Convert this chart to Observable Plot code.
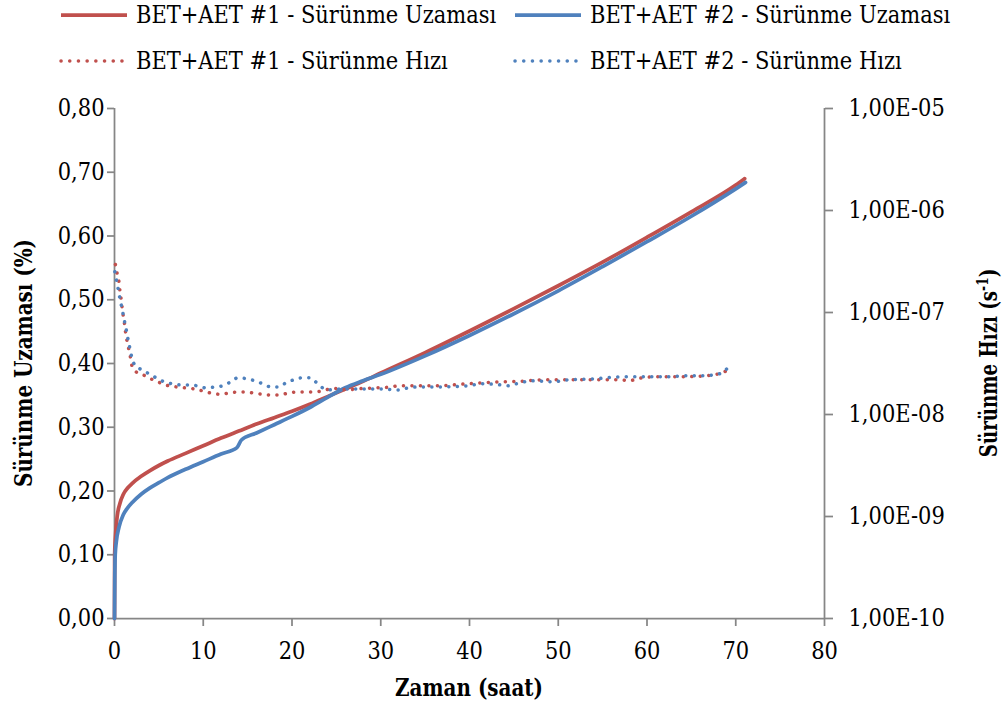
<!DOCTYPE html>
<html><head><meta charset="utf-8">
<script src="https://cdn.jsdelivr.net/npm/d3@7"></script>
<script src="https://cdn.jsdelivr.net/npm/@observablehq/plot@0.6"></script>
<style>
html,body{margin:0;padding:0;background:#fff;}
body{font-family:"DejaVu Serif","Liberation Serif","Times New Roman",serif;color:#000;}
#legend{position:relative;width:1004px;height:80px;font-size:24px;}
.item{position:absolute;height:30px;display:flex;align-items:center;white-space:nowrap;}
.item svg{display:block;margin-right:7px;}
.item span{display:inline-block;transform:scaleX(0.875);transform-origin:0 50%;}
#chart{position:relative;width:1004px;height:627px;}
#chart svg{position:absolute;left:0;top:0;}
</style></head><body>
<div id="legend"></div>
<div id="chart"></div>
<script>
// ---- data ----
const seriesNames = [
  "BET+AET #1 - Sürünme Uzaması",
  "BET+AET #2 - Sürünme Uzaması",
  "BET+AET #1 - Sürünme Hızı",
  "BET+AET #2 - Sürünme Hızı"
];
const colors = ["#C0504D", "#4F81BD"];

const xTicks = [0, 10, 20, 30, 40, 50, 60, 70, 80];
const yTicks = [0, 0.1, 0.2, 0.3, 0.4, 0.5, 0.6, 0.7, 0.8];
const yTickLabels = ["0,00","0,10","0,20","0,30","0,40","0,50","0,60","0,70","0,80"];
const rTicks = [1e-10, 1e-9, 1e-8, 1e-7, 1e-6, 1e-5];
const rTickLabels = ["1,00E-10","1,00E-09","1,00E-08","1,00E-07","1,00E-06","1,00E-05"];

const xTitle = "Zaman (saat)";
const yTitle = "Sürünme Uzaması (%)";
const rTitle = "Sürünme Hızı (s";
const rTitleSup = "-1";

// Sürünme Uzaması (%) - BET+AET #1
const uz1Time = [0, 0.02, 0.1, 0.3, 0.6, 1, 1.5, 2, 3, 4, 5, 6, 8, 10, 12, 14, 16, 18, 20, 22, 24, 26, 28, 30, 35, 40, 45, 50, 55, 60, 65, 70, 71];
const uz1Val  = [0, 0.10, 0.127, 0.16, 0.18, 0.195, 0.205, 0.212, 0.223, 0.232, 0.240, 0.247, 0.259, 0.271, 0.283, 0.294, 0.305, 0.315, 0.325, 0.336, 0.348, 0.360, 0.372, 0.385, 0.417, 0.451, 0.486, 0.522, 0.559, 0.598, 0.638, 0.680, 0.690];

// Sürünme Uzaması (%) - BET+AET #2
const uz2Time = [0, 0.03, 0.08, 0.2, 0.5, 1, 1.5, 2, 3, 4, 5, 6, 8, 10, 12, 13.8, 14.3, 16, 18, 20, 22, 24, 26, 28, 30, 35, 40, 45, 50, 55, 60, 65, 70, 71.1];
const uz2Val  = [0, 0.06, 0.10, 0.12, 0.143, 0.163, 0.174, 0.182, 0.195, 0.205, 0.213, 0.221, 0.234, 0.246, 0.258, 0.268, 0.280, 0.291, 0.304, 0.317, 0.331, 0.347, 0.362, 0.373, 0.383, 0.412, 0.444, 0.478, 0.514, 0.552, 0.591, 0.631, 0.674, 0.684];

// Sürünme Hızı (1/s) - BET+AET #1
const hz1Time = [0.1, 0.3, 0.5, 0.6, 0.75, 0.86, 0.98, 1.13, 1.24, 1.39, 1.61, 1.8, 1.99, 2.55, 3.42, 4.32, 5.18, 6.12, 7.06, 8.0, 9.0, 9.95, 10.9, 11.9, 12.85, 13.8, 14.76, 15.7, 16.7, 17.65, 18.6, 19.5, 20.5, 21.4, 22.4, 23.4, 24.3, 25.3, 26.2, 27.2, 29.2, 31.1, 32.0, 36.0, 39.7, 43.5, 45.4, 48.4, 52.1, 57.0, 58.0, 58.9, 60.8, 63.8, 66.6, 67.5, 68.5, 69.4];
const hz1Val  = [2.95e-7, 2.40e-7, 2.0e-7, 1.66e-7, 1.35e-7, 1.12e-7, 9.33e-8, 7.76e-8, 6.46e-8, 5.37e-8, 4.37e-8, 3.63e-8, 2.95e-8, 2.57e-8, 2.40e-8, 2.19e-8, 2.04e-8, 1.91e-8, 1.86e-8, 1.82e-8, 1.78e-8, 1.70e-8, 1.62e-8, 1.58e-8, 1.62e-8, 1.66e-8, 1.66e-8, 1.62e-8, 1.58e-8, 1.55e-8, 1.55e-8, 1.62e-8, 1.66e-8, 1.66e-8, 1.66e-8, 1.70e-8, 1.78e-8, 1.80e-8, 1.74e-8, 1.78e-8, 1.82e-8, 1.86e-8, 1.91e-8, 1.91e-8, 2.0e-8, 2.09e-8, 2.11e-8, 2.19e-8, 2.19e-8, 2.19e-8, 2.14e-8, 2.24e-8, 2.34e-8, 2.34e-8, 2.40e-8, 2.45e-8, 2.57e-8, 2.82e-8];

// Sürünme Hızı (1/s) - BET+AET #2
const hz2Time = [0.04, 0.23, 0.41, 0.6, 0.79, 0.98, 1.16, 1.35, 1.54, 1.73, 1.92, 2.25, 3.04, 3.87, 4.69, 5.6, 6.5, 7.44, 8.4, 9.3, 10.3, 11.3, 12.2, 13.1, 13.9, 14.9, 15.8, 16.7, 17.65, 18.5, 19.3, 20.2, 21.1, 22.1, 22.8, 23.7, 24.6, 25.5, 28.3, 30.2, 31.1, 32.1, 33.0, 34.1, 36.0, 39.7, 41.6, 43.5, 44.4, 45.6, 47.4, 49.3, 51.2, 54.2, 57.0, 61.9, 64.7, 66.6, 67.5, 68.5, 69.2];
const hz2Val  = [2.51e-7, 2.04e-7, 1.70e-7, 1.38e-7, 1.15e-7, 9.55e-8, 7.94e-8, 6.61e-8, 5.37e-8, 4.47e-8, 3.72e-8, 3.09e-8, 2.75e-8, 2.51e-8, 2.29e-8, 2.09e-8, 2.0e-8, 1.95e-8, 1.95e-8, 1.91e-8, 1.82e-8, 1.86e-8, 1.91e-8, 2.09e-8, 2.29e-8, 2.24e-8, 2.14e-8, 2.0e-8, 1.86e-8, 1.86e-8, 2.04e-8, 2.19e-8, 2.29e-8, 2.29e-8, 2.04e-8, 1.78e-8, 1.74e-8, 1.78e-8, 1.78e-8, 1.78e-8, 1.76e-8, 1.74e-8, 1.82e-8, 1.86e-8, 1.86e-8, 1.91e-8, 2.0e-8, 1.95e-8, 1.91e-8, 2.04e-8, 2.14e-8, 2.09e-8, 2.19e-8, 2.24e-8, 2.34e-8, 2.34e-8, 2.40e-8, 2.40e-8, 2.45e-8, 2.57e-8, 2.95e-8];

// ---- build tables ----
const toRows = (t, v) => t.map((x, i) => ({x, y: v[i]}));
const uz1 = toRows(uz1Time, uz1Val), uz2 = toRows(uz2Time, uz2Val);
const hz1 = toRows(hz1Time, hz1Val), hz2 = toRows(hz2Time, hz2Val);

const axisGray = "#868686";
const dotDash = "0.1,8.4";
const W = 1004, H = 627;
const FONT = "'DejaVu Serif','Liberation Serif','Times New Roman',serif";
const common = {
  width: W, height: H,
  marginLeft: 114, marginRight: 180, marginTop: 28, marginBottom: 89,
  style: `font-family:${FONT};font-size:24px;background:transparent;overflow:visible;color:#000;`
};

const plotA = Plot.plot({
  ...common,
  x: {domain: [0, 80]},
  y: {domain: [0, 0.8]},
  marks: [
    Plot.ruleY([0], {stroke: axisGray, strokeWidth: 1.75}),
    Plot.ruleX([0], {stroke: axisGray, strokeWidth: 1.75}),
    Plot.axisX(xTicks, {anchor: "bottom", tickSize: 8, tickPadding: 15, stroke: axisGray, strokeWidth: 1.75, fill: "#000", label: null, tickFormat: d => String(d)}),
    Plot.axisY(yTicks, {anchor: "left", tickSize: 7, tickPadding: 3, stroke: axisGray, strokeWidth: 1.75, fill: "#000", label: null, tickFormat: d => yTickLabels[yTicks.indexOf(d)]}),
    Plot.line(uz1, {x: "x", y: "y", stroke: colors[0], strokeWidth: 3.75, curve: "monotone-x"}),
    Plot.line(uz2, {x: "x", y: "y", stroke: colors[1], strokeWidth: 3.75, curve: "monotone-x"})
  ]
});

const plotB = Plot.plot({
  ...common,
  x: {domain: [0, 80], axis: null},
  y: {type: "log", domain: [1e-10, 1e-5]},
  marks: [
    Plot.ruleX([80], {stroke: axisGray, strokeWidth: 1.75}),
    Plot.axisY(rTicks, {anchor: "right", tickSize: 8, tickPadding: 16, stroke: axisGray, strokeWidth: 1.75, fill: "#000", label: null, tickFormat: d => rTickLabels[rTicks.indexOf(d)]}),
    Plot.line(hz1, {x: "x", y: "y", stroke: colors[0], strokeWidth: 3.5, strokeDasharray: dotDash, strokeLinecap: "round", curve: "monotone-x"}),
    Plot.line(hz2, {x: "x", y: "y", stroke: colors[1], strokeWidth: 3.5, strokeDasharray: dotDash, strokeLinecap: "round", curve: "monotone-x"})
  ]
});

const chart = document.getElementById("chart");
chart.appendChild(plotA);
chart.appendChild(plotB);

// narrow the tick labels a little so they keep the reference's tall, narrow proportions
const squeeze = 0.875;
[plotA, plotB].forEach(svg => {
  svg.querySelectorAll("text").forEach(t => {
    const w = t.getComputedTextLength();
    if (w > 0) {
      t.setAttribute("textLength", (w * squeeze).toFixed(2));
      t.setAttribute("lengthAdjust", "spacingAndGlyphs");
    }
  });
});

// axis titles
const sA = d3.select(plotA);
sA.append("text").attr("transform", "translate(469,616) scale(0.83,1)").attr("text-anchor", "middle")
  .attr("font-weight", "bold").attr("font-size", 24).text(xTitle);
sA.append("text").attr("transform", "translate(32,283) rotate(-90) scale(0.83,1)").attr("text-anchor", "middle")
  .attr("font-weight", "bold").attr("font-size", 24).text(yTitle);
const rt = sA.append("text").attr("transform", "translate(997,283) rotate(-90) scale(0.76,1)").attr("text-anchor", "middle")
  .attr("font-weight", "bold").attr("font-size", 24);
rt.append("tspan").text(rTitle);
rt.append("tspan").attr("font-size", 16).attr("dy", -9).text(rTitleSup);
rt.append("tspan").attr("dy", 9).text(")");

// legend
const legendItems = [
  {name: seriesNames[0], color: colors[0], dash: null, left: 58, top: 0},
  {name: seriesNames[1], color: colors[1], dash: null, left: 512, top: 0},
  {name: seriesNames[2], color: colors[0], dash: dotDash, left: 58, top: 46},
  {name: seriesNames[3], color: colors[1], dash: dotDash, left: 512, top: 46}
];
const leg = d3.select("#legend");
legendItems.forEach(it => {
  const d = leg.append("div").attr("class", "item").style("left", it.left + "px").style("top", it.top + "px");
  const sw = d.append("svg").attr("width", 71).attr("height", 10);
  const ln = sw.append("line").attr("x1", 3).attr("x2", 69).attr("y1", 5).attr("y2", 5)
    .attr("stroke", it.color).attr("stroke-width", it.dash ? 3.5 : 3.75);
  if (it.dash) ln.attr("stroke-dasharray", "0.1,8.6").attr("stroke-linecap", "round");
  d.append("span").text(it.name);
});
</script>
</body></html>
